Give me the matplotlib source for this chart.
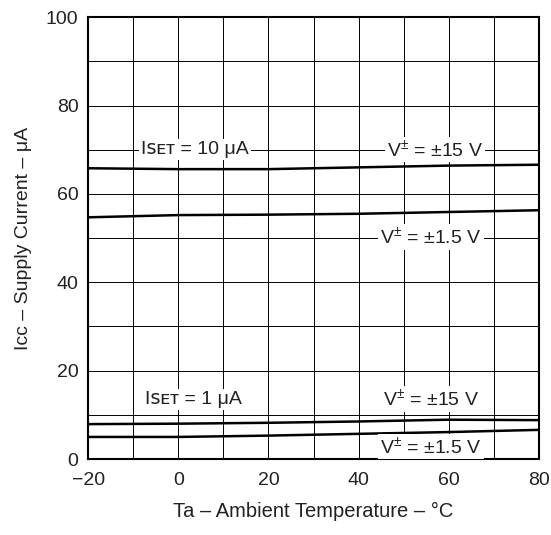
import matplotlib
matplotlib.use('Agg')
import matplotlib.pyplot as plt

plt.rcParams['font.family'] = ['Liberation Sans', 'DejaVu Sans']
plt.rcParams['mathtext.fontset'] = 'custom'
plt.rcParams['mathtext.rm'] = 'Liberation Sans'
plt.rcParams['mathtext.it'] = 'Liberation Sans:italic'

# temperature points (deg C)
temp = [-20, 0, 20, 40, 60, 80]

# supply current (uA)
iset10_v15 = [65.8, 65.6, 65.6, 66.0, 66.4, 66.6]
iset10_v1_5 = [54.7, 55.2, 55.3, 55.5, 55.9, 56.3]
iset1_v15 = [7.9, 8.0, 8.2, 8.5, 8.9, 8.8]
iset1_v1_5 = [5.0, 5.0, 5.3, 5.7, 6.1, 6.6]

xticks = [-20, 0, 20, 40, 60, 80]
yticks = [0, 20, 40, 60, 80, 100]

fig, ax = plt.subplots(figsize=(5.51, 5.35), dpi=100)
fig.subplots_adjust(left=0.16, right=0.978, top=0.968, bottom=0.142)

for series in [iset10_v15, iset10_v1_5, iset1_v15, iset1_v1_5]:
    ax.plot(temp, series, color='black', linewidth=1.8, zorder=3)

ax.set_xlim(-20, 80)
ax.set_ylim(0, 100)
ax.set_xticks(xticks)
ax.set_yticks(yticks)
ax.set_xticks(range(-20, 81, 10), minor=True)
ax.set_yticks(range(0, 101, 10), minor=True)
ax.grid(True, which='both', color='black', linewidth=0.7)
ax.tick_params(which='both', length=0, labelsize=14, labelcolor='#222222')
ax.tick_params(axis='x', pad=9)
ax.tick_params(axis='y', pad=7)
for s in ax.spines.values():
    s.set_linewidth(1.5)

box = dict(facecolor='white', edgecolor='none', pad=1.5)
fs = 14
sc_family = ['Liberation Sans', 'DejaVu Sans']
ax.text(3.7, 70, 'I\uA731\u1D07\u1D1B = 10 μA', fontsize=fs, ha='center', va='center', bbox=box, zorder=4,
        family=sc_family, color='#222222')
ax.text(57, 70, r'V$^{\pm}$ = ±15 V', fontsize=fs, ha='center', va='center', bbox=box, zorder=4, color='#222222')
ax.text(56, 50.3, r'V$^{\pm}$ = ±1.5 V', fontsize=fs, ha='center', va='center', bbox=box, zorder=4, color='#222222')
ax.text(3.3, 13.4, 'I\uA731\u1D07\u1D1B = 1 μA', fontsize=fs, ha='center', va='center', bbox=box, zorder=4,
        family=sc_family, color='#222222')
ax.text(56, 13.6, r'V$^{\pm}$ = ±15 V', fontsize=fs, ha='center', va='center', bbox=box, zorder=4, color='#222222')
ax.text(56, 2.8, r'V$^{\pm}$ = ±1.5 V', fontsize=fs, ha='center', va='center', bbox=box, zorder=4, color='#222222')

ax.set_xlabel('Ta – Ambient Temperature – °C', fontsize=14.5, labelpad=10, color='#222222')
ax.set_ylabel('I\u1D04\u1D04 – Supply Current – μA', fontsize=14, labelpad=10, color='#222222',
              family=sc_family)

fig.savefig('out.png', dpi=100)
